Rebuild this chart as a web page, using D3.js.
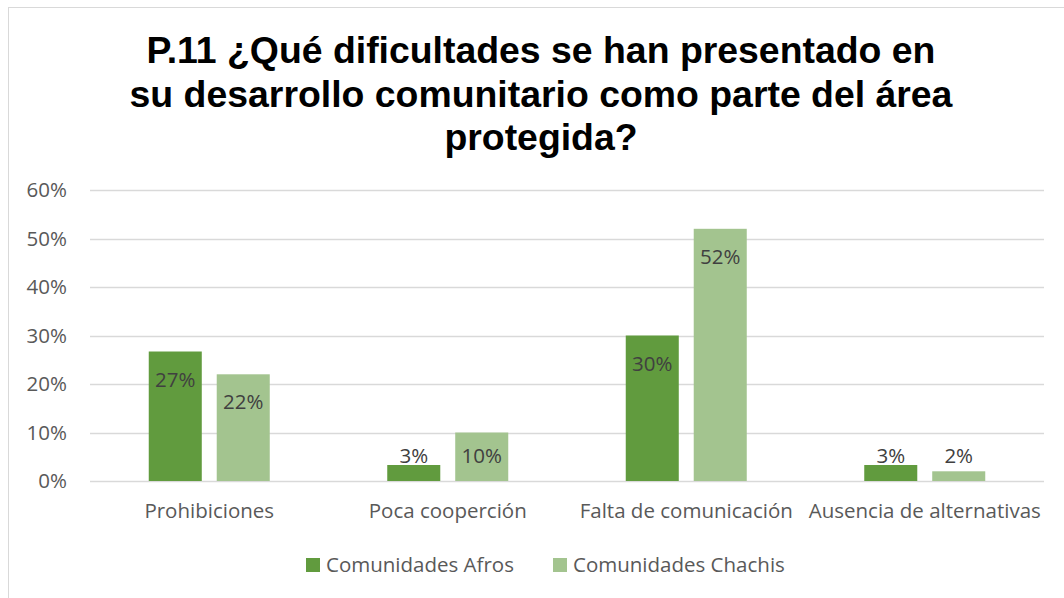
<!DOCTYPE html>
<html>
<head>
<meta charset="utf-8">
<script src="https://cdn.jsdelivr.net/npm/d3@7"></script>
<style>
  body { margin: 0; background: #fff; }
  svg { display: block; }
</style>
</head>
<body>
<div id="chart"></div>
<script>
"use strict";

// chart data
const titleLines = [
  "P.11 ¿Qué dificultades se han presentado en",
  "su desarrollo comunitario como parte del área",
  "protegida?"
];
const categories = ["Prohibiciones", "Poca cooperción", "Falta de comunicación", "Ausencia de alternativas"];
const seriesNames = ["Comunidades Afros", "Comunidades Chachis"];
const afrosValues = [0.267, 0.033, 0.30, 0.033];
const chachisValues = [0.22, 0.10, 0.52, 0.02];
const yTicks = [0, 0.1, 0.2, 0.3, 0.4, 0.5, 0.6];
const seriesColors = ["#619b3e", "#a3c48f"];

const width = 1064, height = 598;
const margin = { left: 90, top: 190 };
const plotRight = 1044, plotBottom = 481;
const bodyFont = "'Open Sans', sans-serif";
const bodySize = "20.5px";

const svg = d3.select("#chart").append("svg")
  .attr("width", width)
  .attr("height", height);

/* outer chart border, cropped on right and bottom */
svg.append("rect")
  .attr("x", 8.5).attr("y", 7.5)
  .attr("width", 1100).attr("height", 700)
  .attr("fill", "#fff")
  .attr("stroke", "#d9d9d9");

/* title */
svg.append("g").selectAll("text")
  .data(titleLines)
  .enter().append("text")
  .attr("x", 541)
  .attr("y", function(d, i) { return 63 + i * 43.5; })
  .attr("text-anchor", "middle")
  .style("font-family", "'Liberation Sans', Arial, sans-serif")
  .style("font-weight", "bold")
  .style("font-size", "37.4px")
  .style("fill", "#000")
  .text(function(d) { return d; });

/* scales */
const yScale = d3.scaleLinear()
  .domain([0, 0.6])
  .range([plotBottom, margin.top]);

const x0 = d3.scaleBand()
  .domain(categories)
  .range([margin.left, plotRight])
  .padding(0);

const groupWidth = 121;
const x1 = d3.scaleBand()
  .domain(seriesNames)
  .range([x0.bandwidth() / 2 - groupWidth / 2, x0.bandwidth() / 2 + groupWidth / 2])
  .paddingInner(0.22);

/* gridlines */
svg.append("g")
  .selectAll("line")
  .data(yTicks)
  .enter().append("line")
  .attr("x1", margin.left).attr("x2", plotRight)
  .attr("y1", function(d) { return Math.round(yScale(d)) + 0.5; })
  .attr("y2", function(d) { return Math.round(yScale(d)) + 0.5; })
  .attr("stroke", "#d9d9d9")
  .attr("stroke-width", 1.5);

/* y axis labels */
const yAxis = d3.axisLeft(yScale)
  .tickValues(yTicks)
  .tickFormat(d3.format(".0%"))
  .tickSize(0)
  .tickPadding(23);

const yAxisG = svg.append("g")
  .attr("transform", "translate(" + margin.left + ",0)")
  .call(yAxis);
yAxisG.select(".domain").remove();
yAxisG.selectAll("text")
  .style("font-family", bodyFont)
  .style("font-size", bodySize)
  .style("fill", "#595959");

/* bars */
const series = seriesNames.map(function(name, si) {
  const vals = si === 0 ? afrosValues : chachisValues;
  return categories.map(function(c, ci) { return { cat: c, name: name, value: vals[ci], si: si }; });
});
const flat = [].concat.apply([], series);

svg.append("g").selectAll("rect")
  .data(flat)
  .enter().append("rect")
  .attr("x", function(d) { return x0(d.cat) + x1(d.name); })
  .attr("y", function(d) { return yScale(d.value); })
  .attr("width", x1.bandwidth())
  .attr("height", function(d) { return plotBottom - yScale(d.value); })
  .attr("fill", function(d) { return seriesColors[d.si]; });

/* data labels: inside the top of tall bars, just above the axis for short ones */
svg.append("g").selectAll("text")
  .data(flat)
  .enter().append("text")
  .attr("x", function(d) { return x0(d.cat) + x1(d.name) + x1.bandwidth() / 2; })
  .attr("y", function(d) { return Math.min(yScale(d.value) + 28, plotBottom - 25); })
  .attr("dy", "0.35em")
  .attr("text-anchor", "middle")
  .style("font-family", bodyFont)
  .style("font-size", bodySize)
  .style("fill", "#404040")
  .text(function(d) { return d3.format(".0%")(d.value); });

/* category axis */
const xAxis = d3.axisBottom(x0).tickSize(0).tickPadding(22);
const xAxisG = svg.append("g")
  .attr("transform", "translate(0," + plotBottom + ")")
  .call(xAxis);
xAxisG.select(".domain").remove();
xAxisG.selectAll("text")
  .style("font-family", bodyFont)
  .style("font-size", bodySize)
  .style("fill", "#595959");

/* legend */
const legendX = [306, 553];
const legend = svg.append("g").selectAll("g")
  .data(seriesNames)
  .enter().append("g")
  .attr("transform", function(d, i) { return "translate(" + legendX[i] + ",558)"; });
legend.append("rect")
  .attr("width", 14).attr("height", 14)
  .attr("fill", function(d, i) { return seriesColors[i]; });
legend.append("text")
  .attr("x", 20).attr("y", 7)
  .attr("dy", "0.35em")
  .style("font-family", bodyFont)
  .style("font-size", bodySize)
  .style("fill", "#595959")
  .text(function(d) { return d; });
</script>
</body>
</html>
